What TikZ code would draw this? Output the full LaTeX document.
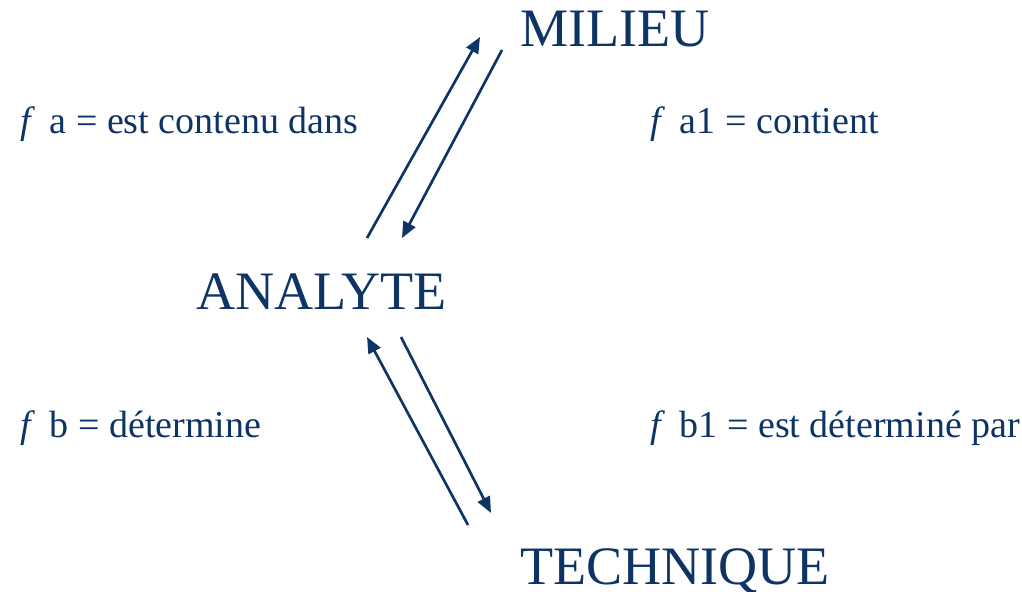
\documentclass[tikz,border=0pt]{standalone}
\usepackage{fontspec}
\setmainfont{Liberation Serif}
\usetikzlibrary{arrows.meta}
\definecolor{navy}{RGB}{14,52,102}
% italic function sign followed by a wide gap
\newcommand{\fn}{{\itshape f}\hspace{0.5em}}
\tikzset{
  term/.style={anchor=base west, inner sep=0pt, text=navy, font=\fontsize{40.6}{44}\selectfont},
  relation/.style={anchor=base west, inner sep=0pt, text=navy, font=\fontsize{28.5}{32}\selectfont},
  link/.style={draw=navy, line width=2pt, -{Triangle[length=12pt,width=10pt]}}
}
\begin{document}
\begin{tikzpicture}[x=0.75pt, y=-0.75pt]
  \useasboundingbox (0,0) rectangle (1022,592);

  % terms
  \node[term] (milieu)    at (520,47)  {MILIEU};
  \node[term] (analyte)   at (196,309) {ANALYTE};
  \node[term] (technique) at (520,584) {TECHNIQUE};

  % relations
  \node[relation] (fa)  at (20,133)  {\fn a = est contenu dans};
  \node[relation] (fa1) at (650,133) {\fn a1 = contient};
  \node[relation] (fb)  at (20,437)  {\fn b = détermine};
  \node[relation] (fb1) at (650,437) {\fn b1 = est déterminé par};

  % arrow ends
  \coordinate (a-up-s)  at (367,238);
  \coordinate (m-up-e)  at (480,37);
  \coordinate (m-dn-s)  at (502,50);
  \coordinate (a-dn-e)  at (402,238);
  \coordinate (t-up-s)  at (468,525);
  \coordinate (a-up-e)  at (367,337);
  \coordinate (a-dn-s)  at (401,337);
  \coordinate (t-dn-e)  at (491,513);

  \draw[link] (a-up-s) -- (m-up-e);
  \draw[link] (m-dn-s) -- (a-dn-e);
  \draw[link] (t-up-s) -- (a-up-e);
  \draw[link] (a-dn-s) -- (t-dn-e);
\end{tikzpicture}
\end{document}
